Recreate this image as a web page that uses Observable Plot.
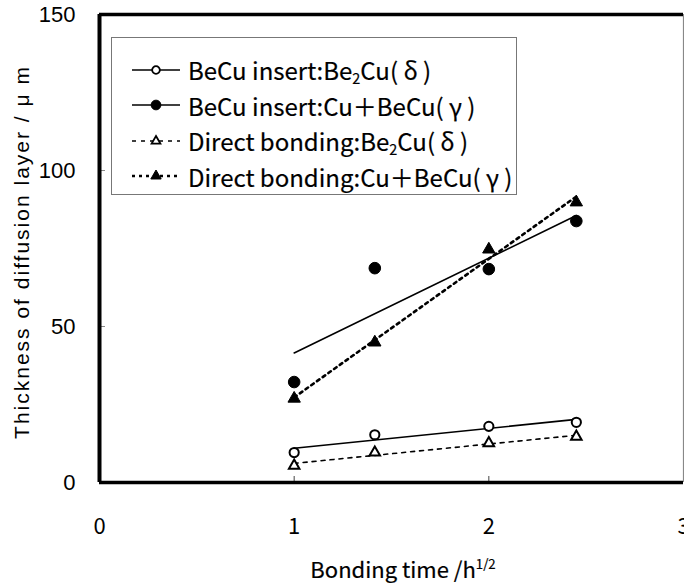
<!DOCTYPE html>
<html><head><meta charset="utf-8">
<script src="https://cdn.jsdelivr.net/npm/d3@7"></script>
<script src="https://cdn.jsdelivr.net/npm/@observablehq/plot@0.6"></script>
<style>
body{margin:0;background:#fff;}
#wrap{position:relative;width:684px;height:586px;overflow:hidden;}
#legend{position:absolute;left:111px;top:37px;width:406px;height:158px;border:1px solid #777;background:#fff;box-sizing:border-box;padding-top:14px;}
.row{height:35.5px;display:flex;align-items:center;font-family:"Noto Sans CJK JP",sans-serif;font-size:24px;color:#000;white-space:nowrap;-webkit-text-stroke:0.2px #000;}
.row svg{margin-left:20px;margin-right:8px;flex:none;}
.row sub{font-size:0.6em;vertical-align:-0.25em;}
#ylab{position:absolute;left:22px;top:252px;transform:translate(-50%,-50%) rotate(-90deg);font-family:"Liberation Sans",Arial,sans-serif;font-size:21px;letter-spacing:2px;white-space:nowrap;}
#xlab{position:absolute;left:403px;top:568px;transform:translate(-50%,-50%);font-family:"Noto Sans CJK JP",sans-serif;font-size:22px;white-space:nowrap;-webkit-text-stroke:0.2px #000;}
#xlab sup{font-size:0.6em;vertical-align:0.7em;}
</style></head><body><div id="wrap"></div>
<script>
// x = square root of bonding time in hours
const hours = [1, 2, 4, 6];
const seriesNames = [
  "BeCu insert:Be2Cu(δ)",
  "BeCu insert:Cu+BeCu(γ)",
  "Direct bonding:Be2Cu(δ)",
  "Direct bonding:Cu+BeCu(γ)"
];
const insertDelta = [9.6, 15.3, 18.0, 19.3];
const insertGamma = [32.2, 68.7, 68.4, 83.8];
const directDelta = [5.4, 9.6, 12.6, 14.7];
const directGamma = [26.9, 44.9, 74.7, 89.8];
const xTicks = [0, 1, 2, 3];
const yTicks = [0, 50, 100, 150];

const seriesValues = [insertDelta, insertGamma, directDelta, directGamma];
const styles = [
  {symbol: "circle", fill: "white", r: 4.6, dash: null, lw: 1.6},
  {symbol: "circle", fill: "black", r: 5.8, dash: null, lw: 1.6},
  {symbol: "triangle", fill: "white", r: 3.9, dash: "4,5", lw: 1.6},
  {symbol: "triangle", fill: "black", r: 4.6, dash: "3,4", lw: 2.6}
];
const data = seriesValues.flatMap((vals, i) => vals.map((v, j) => ({s: i, x: Math.sqrt(hours[j]), y: v})));

const marks = [];
seriesValues.forEach((vals, i) => {
  const st = styles[i];
  const sub = data.filter(d => d.s === i);
  marks.push(Plot.linearRegressionY(sub, {x: "x", y: "y", ci: 0, stroke: "black", strokeWidth: st.lw, strokeDasharray: st.dash}));
});
seriesValues.forEach((vals, i) => {
  const st = styles[i];
  const sub = data.filter(d => d.s === i);
  marks.push(Plot.dot(sub, {x: "x", y: "y", symbol: st.symbol, r: st.r, fill: st.fill, stroke: "black", strokeWidth: st.fill === "white" ? 2 : 1}));
});

const chart = Plot.plot({
  width: 684, height: 586,
  marginLeft: 99, marginRight: 1, marginTop: 14, marginBottom: 104,
  x: {domain: [0, 3]},
  y: {domain: [0, 150]},
  style: {background: "white", color: "black"},
  marks: [
    Plot.axisY({ticks: yTicks, tickSize: 0, tickPadding: 24, fontSize: 22, fontFamily: "Liberation Sans, Arial, sans-serif", tickFormat: d => String(d), label: null}),
    Plot.axisY({ticks: [50, 100], tickSize: -6, text: null, label: null, stroke: "#888"}),
    Plot.axisX({ticks: xTicks, tickSize: 0, tickPadding: 36, fontSize: 22, fontFamily: "Noto Sans CJK JP, sans-serif", tickFormat: d => String(d), label: null}),
    Plot.axisX({ticks: [1, 2], tickSize: -6, text: null, label: null, stroke: "#444"}),
    Plot.ruleX([3], {stroke: "#888", strokeWidth: 1.2}),
    Plot.ruleY([150], {stroke: "black", strokeWidth: 3.5}),
    Plot.ruleY([0], {stroke: "black", strokeWidth: 3.5}),
    Plot.ruleX([0], {stroke: "black", strokeWidth: 4}),
    ...marks
  ]
});
const wrap = document.getElementById("wrap");
wrap.appendChild(chart);

// legend
const legendLabels = [
  "BeCu insert:Be<sub>2</sub>Cu( δ )",
  "BeCu insert:Cu＋BeCu( γ )",
  "Direct bonding:Be<sub>2</sub>Cu( δ )",
  "Direct bonding:Cu＋BeCu( γ )"
];
const legend = document.createElement("div");
legend.id = "legend";
styles.forEach((st, i) => {
  const row = document.createElement("div");
  row.className = "row";
  const size = st.r * st.r * Math.PI;
  const sym = d3.symbol(st.symbol === "circle" ? d3.symbolCircle : d3.symbolTriangle, size * 0.7)();
  row.innerHTML = `<svg width="48" height="20"><line x1="0" x2="48" y1="10" y2="10" stroke="black" stroke-width="${st.lw}" ${st.dash ? `stroke-dasharray="${st.dash}"` : ""}/><path d="${sym}" transform="translate(24,10)" fill="${st.fill}" stroke="black" stroke-width="${st.fill === "white" ? 1.8 : 1}"/></svg><span>${legendLabels[i]}</span>`;
  legend.appendChild(row);
});
wrap.appendChild(legend);

const ylab = document.createElement("div");
ylab.id = "ylab";
ylab.textContent = "Thickness of diffusion layer / μ m";
wrap.appendChild(ylab);
const xlab = document.createElement("div");
xlab.id = "xlab";
xlab.innerHTML = "Bonding time /h<sup>1/2</sup>";
wrap.appendChild(xlab);
</script>
</body></html>
